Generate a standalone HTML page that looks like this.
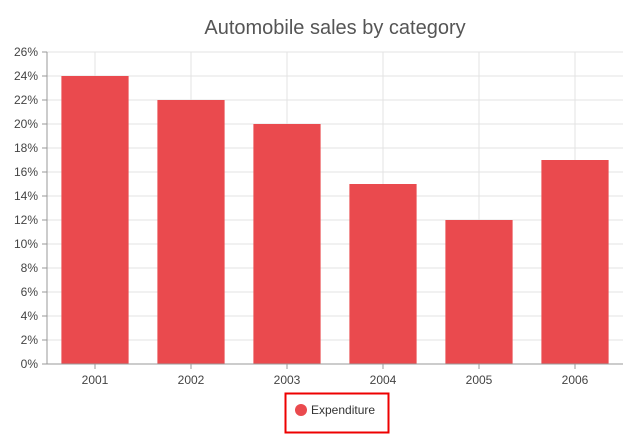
<!DOCTYPE html>
<html><head><meta charset="utf-8"><style>
body{margin:0;background:#fff;font-family:"Liberation Sans",sans-serif;}
</style></head><body>
<svg id="chart" width="639" height="440" xmlns="http://www.w3.org/2000/svg">
<text x="335" y="34" text-anchor="middle" font-size="20" fill="#555">Automobile sales by category</text>
<g id="grid"></g><g id="bars"></g><g id="axes"></g>
<g>
<rect x="285.5" y="393.5" width="103" height="39" fill="none" stroke="#e00" stroke-width="2"/>
<circle cx="301" cy="410" r="6" fill="#ea4a4e"/>
<text x="311" y="414" font-size="12" fill="#333">Expenditure</text>
</g>
</svg>
<script>
const categories=["2001","2002","2003","2004","2005","2006"];
const values=[24,22,20,15,12,17];
const yTicks=[0,2,4,6,8,10,12,14,16,18,20,22,24,26];
const ns="http://www.w3.org/2000/svg";
const L=47,R=623,T=52,B=364,yMax=26;
const bw=(R-L)/categories.length;
const y=v=>B-(v/yMax)*(B-T);
const xc=i=>L+bw*(i+0.5);
function mk(tag,attrs,parent){const e=document.createElementNS(ns,tag);for(const k in attrs)e.setAttribute(k,attrs[k]);document.getElementById(parent).appendChild(e);return e;}
yTicks.forEach(t=>{
 const g=mk('line',{x1:L,x2:R,y1:y(t),y2:y(t),stroke:'#e3e3e3'},'grid');
 
 
 const tk=mk('line',{x1:L-5,x2:L,y1:y(t),y2:y(t),stroke:'#999'},'axes');
 
 
 const tx=mk('text',{x:L-9,y:y(t)+4,'text-anchor':'end','font-size':12,fill:'#444'},'axes');
 tx.textContent=t+'%';
 
 
});
categories.forEach((c,i)=>{
 const g=mk('line',{x1:xc(i),x2:xc(i),y1:T,y2:B,stroke:'#e3e3e3'},'grid');
 
 
 const w=bw*0.7;
 const b=mk('rect',{x:xc(i)-w/2,y:y(values[i]),width:w,height:B-y(values[i]),fill:'#ea4a4e'},'bars');
 
 
 const tk=mk('line',{x1:xc(i),x2:xc(i),y1:B,y2:B+5,stroke:'#999'},'axes');
 
 
 const tx=mk('text',{x:xc(i),y:B+20,'text-anchor':'middle','font-size':12,fill:'#444'},'axes');
 tx.textContent=c;
 
 
});
const ya=mk('line',{x1:L,x2:L,y1:T,y2:B,stroke:'#999'},'axes');


const xa=mk('line',{x1:L,x2:R,y1:B,y2:B,stroke:'#999'},'axes');


</script>
</body></html>
